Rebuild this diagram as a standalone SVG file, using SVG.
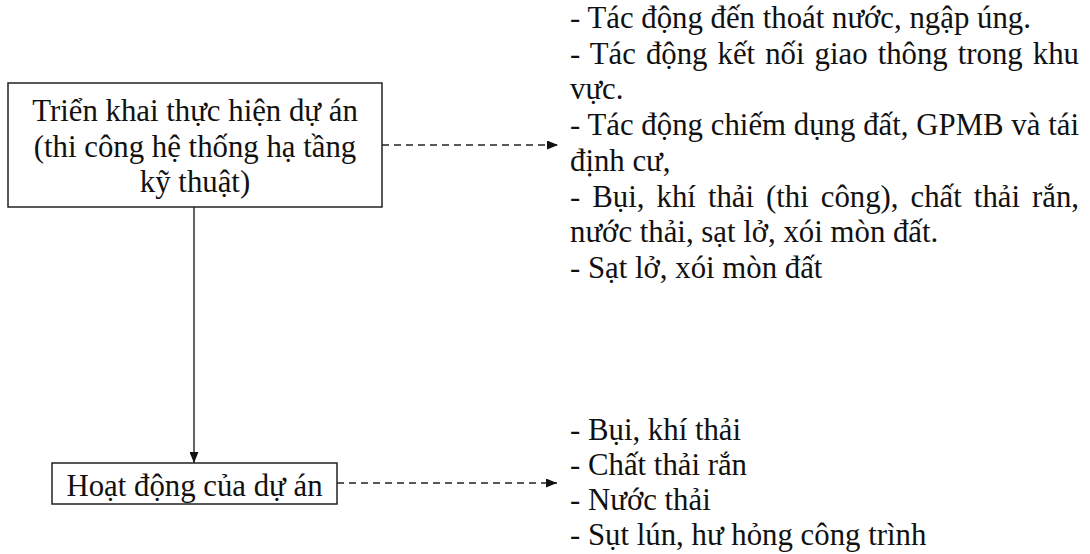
<svg xmlns="http://www.w3.org/2000/svg" width="1090" height="554" viewBox="0 0 1090 554">
  <style>
    .t { font-family: "Liberation Serif", "Times New Roman", serif; font-size: 30.8px; fill: #111; }
    .c { text-anchor: middle; }
    .box { fill: #fff; stroke: #222; stroke-width: 1.5; }
    .solid { fill: none; stroke: #222; stroke-width: 1.4; }
    .dash { fill: none; stroke: #222; stroke-width: 1.4; stroke-dasharray: 7 5; }
  </style>
  <defs>
    <marker id="ah" markerUnits="userSpaceOnUse" markerWidth="11" markerHeight="9" refX="11" refY="4.5" orient="auto">
      <path d="M0,0 L11,4.5 L0,9 z" fill="#111"/>
    </marker>
  </defs>
  <rect width="1090" height="554" fill="#fff"/>

  <g id="connectors">
    <line class="solid" x1="194" y1="207" x2="194" y2="463" marker-end="url(#ah)"/>
    <line class="dash" x1="382" y1="145" x2="558" y2="145" marker-end="url(#ah)"/>
    <line class="dash" x1="337" y1="483" x2="557" y2="483" marker-end="url(#ah)"/>
  </g>

  <g id="node-trien-khai">
    <rect class="box" x="8" y="83" width="374" height="124"/>
    <text class="t c" x="195" y="121">Triển khai thực hiện dự án</text>
    <text class="t c" x="195" y="156.5">(thi công hệ thống hạ tầng</text>
    <text class="t c" x="195" y="192">kỹ thuật)</text>
  </g>

  <g id="node-hoat-dong">
    <rect class="box" x="52" y="463" width="285" height="41"/>
    <text class="t c" x="194.5" y="495.5">Hoạt động của dự án</text>
  </g>

  <g id="impacts-construction">
    <text class="t" x="570" y="28">- Tác động đến thoát nước, ngập úng.</text>
    <text class="t" x="570" y="63.7" word-spacing="2.4" textLength="509" lengthAdjust="spacing">- Tác động kết nối giao thông trong khu</text>
    <text class="t" x="570" y="99.4">vực.</text>
    <text class="t" x="570" y="135.1" textLength="509" lengthAdjust="spacing">- Tác động chiếm dụng đất, GPMB và tái</text>
    <text class="t" x="570" y="170.8">định cư,</text>
    <text class="t" x="570" y="206.5" word-spacing="4.4" textLength="509" lengthAdjust="spacing">- Bụi, khí thải (thi công), chất thải rắn,</text>
    <text class="t" x="570" y="242.2">nước thải, sạt lở, xói mòn đất.</text>
    <text class="t" x="570" y="278">- Sạt lở, xói mòn đất</text>
  </g>

  <g id="impacts-operation">
    <text class="t" x="570" y="440">- Bụi, khí thải</text>
    <text class="t" x="570" y="475">- Chất thải rắn</text>
    <text class="t" x="570" y="510">- Nước thải</text>
    <text class="t" x="570" y="545">- Sụt lún, hư hỏng công trình</text>
  </g>
</svg>
